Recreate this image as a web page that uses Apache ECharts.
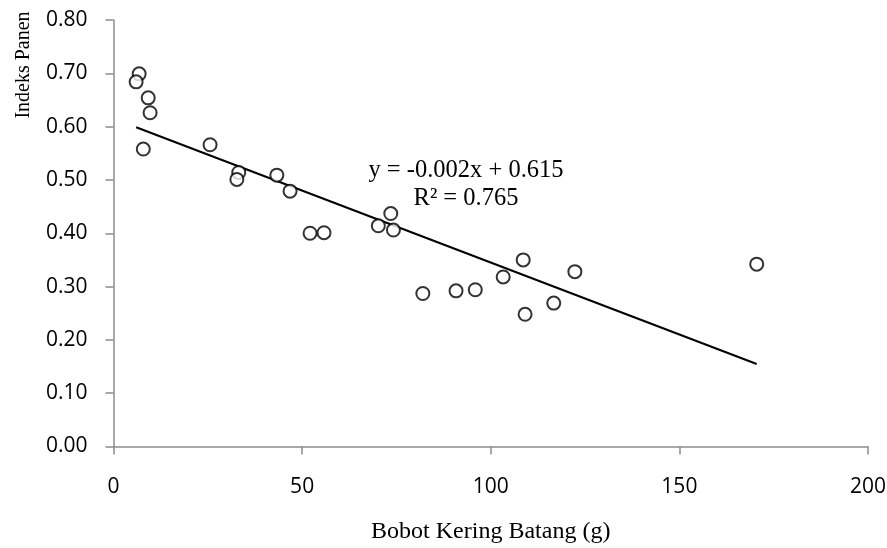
<!DOCTYPE html>
<html>
<head>
<meta charset="utf-8">
<script src="https://cdn.jsdelivr.net/npm/echarts@6/dist/echarts.min.js"></script>
<style>
  html, body { margin: 0; padding: 0; background: #fff; }
  #chart { width: 887px; height: 548px; }
</style>
</head>
<body>
<div id="chart"></div>
<script>
// Bobot kering batang (g) vs indeks panen
var bobotKering = [6.8, 6.0, 9.2, 9.7, 7.9, 25.6, 33.2, 32.7, 43.3, 46.8, 52.1, 55.8,
  70.2, 73.5, 74.2, 82.0, 90.8, 95.9, 103.3, 108.6, 109.1, 116.7, 122.3, 170.5];
var indeksPanen = [0.699, 0.684, 0.654, 0.626, 0.558, 0.566, 0.514, 0.501, 0.509, 0.479, 0.400, 0.401,
  0.414, 0.437, 0.406, 0.287, 0.292, 0.294, 0.318, 0.350, 0.248, 0.269, 0.328, 0.342];

// garis tren seperti yang tergambar
var trendSlope = -0.0027;
var trendIntercept = 0.615;
var eqLines = ["y = -0.002x + 0.615", "R² = 0.765"];

var points = bobotKering.map(function(x, i) { return [x, indeksPanen[i]]; });
var xMin = Math.min.apply(null, bobotKering);
var xMax = Math.max.apply(null, bobotKering);
var trend = [
  [xMin, trendIntercept + trendSlope * xMin],
  [xMax, trendIntercept + trendSlope * xMax]
];

var axisColor = "#8c8c8c";
var chart = echarts.init(document.getElementById("chart"));
chart.setOption({
  animation: false,
  grid: { left: 113.5, right: 19, top: 20, bottom: 101.5, outerBoundsMode: "none", containLabel: false },
  xAxis: {
    type: "value", min: 0, max: 200, interval: 50,
    name: "Bobot Kering Batang (g)", nameLocation: "middle", nameGap: 73,
    nameTextStyle: { fontFamily: "Liberation Serif", fontSize: 24, color: "#000" },
    axisLine: { onZero: false, lineStyle: { color: axisColor, width: 1.5 } },
    axisTick: { show: true, length: 8, lineStyle: { color: axisColor, width: 1.5 } },
    axisLabel: { margin: 30, fontFamily: "Open Sans", fontSize: 21, color: "#000" },
    splitLine: { show: false }
  },
  yAxis: {
    type: "value", min: 0, max: 0.8, interval: 0.1,
    axisLine: { show: true, onZero: false, lineStyle: { color: axisColor, width: 1.5 } },
    axisTick: { show: true, length: 8, lineStyle: { color: axisColor, width: 1.5 } },
    axisLabel: {
      margin: 26, fontFamily: "Open Sans", fontSize: 21, color: "#000",
      formatter: function(v) { return v.toFixed(2); }
    },
    splitLine: { show: false }
  },
  graphic: [
    {
      type: "text", x: 24, y: 65, rotation: Math.PI / 2,
      style: { text: "Indeks Panen", fontFamily: "Liberation Serif", fontSize: 20,
        fill: "#000", align: "center", verticalAlign: "middle" }
    },
    {
      type: "text", x: 466, y: 171,
      style: { text: eqLines[0], fontFamily: "Liberation Serif", fontSize: 24.5,
        fill: "#000", align: "center", verticalAlign: "middle" }
    },
    {
      type: "text", x: 466, y: 199,
      style: { text: eqLines[1], fontFamily: "Liberation Serif", fontSize: 24.5,
        fill: "#000", align: "center", verticalAlign: "middle" }
    }
  ],
  series: [
    {
      type: "line", data: trend, symbol: "none", silent: true,
      lineStyle: { color: "#000", width: 2 }, z: 1
    },
    {
      type: "scatter", data: points, symbol: "circle", symbolSize: 13,
      itemStyle: { color: "#fff", borderColor: "#000", borderWidth: 2 }, z: 2
    }
  ]
});
</script>
</body>
</html>
